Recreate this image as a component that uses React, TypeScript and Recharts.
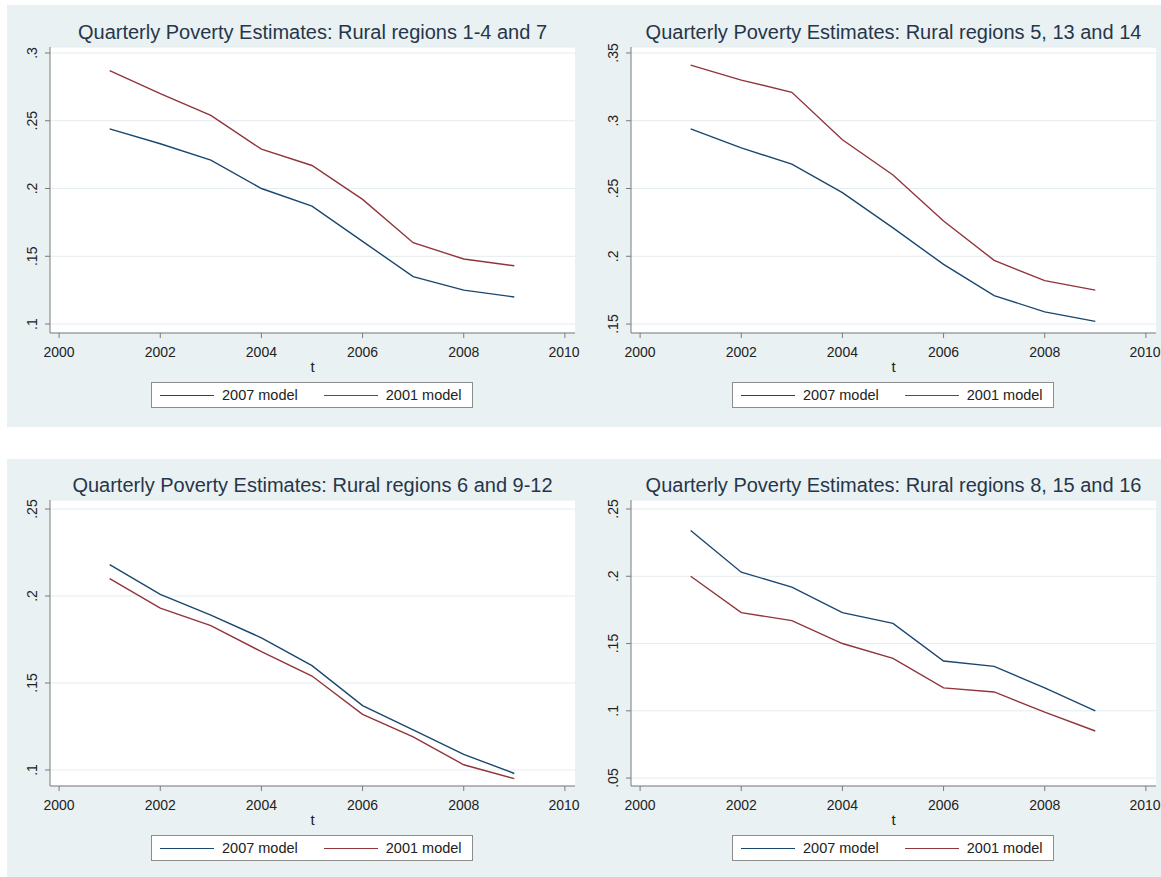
import React from 'react';
import { LineChart, Line, XAxis, YAxis, CartesianGrid } from 'recharts';

const FONT = '"Liberation Sans", Arial, Helvetica, sans-serif';

const years = [2001, 2002, 2003, 2004, 2005, 2006, 2007, 2008, 2009];

// Rural regions 1-4 and 7
const ruralA_2007 = [0.244, 0.233, 0.221, 0.2, 0.187, 0.161, 0.135, 0.125, 0.12];
const ruralA_2001 = [0.287, 0.27, 0.254, 0.229, 0.217, 0.192, 0.16, 0.148, 0.143];

// Rural regions 5, 13 and 14
const ruralB_2007 = [0.294, 0.28, 0.268, 0.247, 0.221, 0.194, 0.171, 0.159, 0.152];
const ruralB_2001 = [0.341, 0.33, 0.321, 0.286, 0.26, 0.226, 0.197, 0.182, 0.175];

// Rural regions 6 and 9-12
const ruralC_2007 = [0.218, 0.201, 0.189, 0.176, 0.16, 0.137, 0.123, 0.109, 0.098];
const ruralC_2001 = [0.21, 0.193, 0.183, 0.168, 0.154, 0.132, 0.119, 0.103, 0.095];

// Rural regions 8, 15 and 16
const ruralD_2007 = [0.234, 0.203, 0.192, 0.173, 0.165, 0.137, 0.133, 0.117, 0.1];
const ruralD_2001 = [0.2, 0.173, 0.167, 0.15, 0.139, 0.117, 0.114, 0.099, 0.085];

const xTicks = [2000, 2002, 2004, 2006, 2008, 2010];

const yTicksA = [0.1, 0.15, 0.2, 0.25, 0.3];
const yLabelsA = ['.1', '.15', '.2', '.25', '.3'];
const yTicksB = [0.15, 0.2, 0.25, 0.3, 0.35];
const yLabelsB = ['.15', '.2', '.25', '.3', '.35'];
const yTicksC = [0.1, 0.15, 0.2, 0.25];
const yLabelsC = ['.1', '.15', '.2', '.25'];
const yTicksD = [0.05, 0.1, 0.15, 0.2, 0.25];
const yLabelsD = ['.05', '.1', '.15', '.2', '.25'];

const seriesNames = ['2007 model', '2001 model'];

const NAVY = '#1a476f';
const MAROON = '#90353b';
const BG = '#eaf1f3';
const TEXT = '#222';

const toRows = (m2007: number[], m2001: number[]) =>
  years.map((year, i) => ({ year, m2007: m2007[i], m2001: m2001[i] }));

const panels = [
  {
    title: 'Quarterly Poverty Estimates: Rural regions 1-4 and 7',
    rows: toRows(ruralA_2007, ruralA_2001),
    ticks: yTicksA, labels: yLabelsA, domain: [0.0934, 0.3044],
    left: 0, top: 5,
  },
  {
    title: 'Quarterly Poverty Estimates: Rural regions 5, 13 and 14',
    rows: toRows(ruralB_2007, ruralB_2001),
    ticks: yTicksB, labels: yLabelsB, domain: [0.1434, 0.3544],
    left: 581, top: 5,
  },
  {
    title: 'Quarterly Poverty Estimates: Rural regions 6 and 9-12',
    rows: toRows(ruralC_2007, ruralC_2001),
    ticks: yTicksC, labels: yLabelsC, domain: [0.0908, 0.2552],
    left: 0, top: 458,
  },
  {
    title: 'Quarterly Poverty Estimates: Rural regions 8, 15 and 16',
    rows: toRows(ruralD_2007, ruralD_2001),
    ticks: yTicksD, labels: yLabelsD, domain: [0.0441, 0.2567],
    left: 581, top: 458,
  },
];

const XTick = ({ x, y, payload }: any) => (
  <text x={x} y={y + 19} textAnchor="middle" fontSize={14} fill={TEXT} fontFamily={FONT}>
    {payload.value}
  </text>
);

const makeYTick = (ticks: number[], labels: string[]) => ({ x, y, payload }: any) => {
  const bx = x - 8;
  const idx = ticks.findIndex((t) => Math.abs(t - payload.value) < 1e-9);
  return (
    <text
      x={bx}
      y={y}
      transform={`rotate(-90, ${bx}, ${y})`}
      textAnchor="middle"
      fontSize={14}
      fill={TEXT}
      fontFamily={FONT}
    >
      {idx >= 0 ? labels[idx] : payload.value}
    </text>
  );
};

const AxisTitle = (props: any) => {
  const vb = props.viewBox || {};
  return (
    <text x={vb.x + vb.width / 2} y={vb.y + 39} textAnchor="middle" fontSize={15} fill={TEXT} fontFamily={FONT}>
      t
    </text>
  );
};

const LegendBox = () => (
  <div
    style={{
      position: 'absolute', left: 151, top: 377, width: 320, height: 24,
      border: '1px solid #8c8c8c', background: '#fff',
      display: 'flex', alignItems: 'center', fontFamily: FONT, fontSize: 14.5, color: TEXT,
    }}
  >
    {seriesNames.map((name, i) => (
      <div key={name} style={{ display: 'flex', alignItems: 'center', marginLeft: i === 0 ? 8 : 26 }}>
        <div style={{ width: 54, height: 0, borderTop: `1.5px solid ${i === 0 ? NAVY : MAROON}` }} />
        <span style={{ marginLeft: 8 }}>{name}</span>
      </div>
    ))}
  </div>
);

const Panel = ({ p }: any) => (
  <div style={{ position: 'absolute', left: p.left, top: p.top, width: 580, height: 422 }}>
    <div
      style={{
        position: 'absolute', left: 50, top: 17, width: 525, textAlign: 'center',
        fontFamily: FONT, fontSize: 20, lineHeight: '20px', color: '#26364a', whiteSpace: 'nowrap',
      }}
    >
      {p.title}
    </div>
    <LineChart
      width={580}
      height={422}
      data={p.rows}
      margin={{ top: 42, right: 5, left: 6, bottom: 54 }}
      style={{ position: 'absolute', left: 0, top: 0 }}
    >
      <CartesianGrid vertical={false} stroke="#e4ecef" fill="#ffffff" />
      <XAxis
        dataKey="year"
        type="number"
        domain={[1999.82, 2010.2]}
        ticks={xTicks}
        allowDataOverflow
        height={40}
        tickSize={5}
        tickMargin={0}
        axisLine={{ stroke: '#7a7a7a' }}
        tickLine={{ stroke: '#7a7a7a' }}
        tick={<XTick />}
        label={AxisTitle}
      />
      <YAxis
        type="number"
        domain={p.domain}
        ticks={p.ticks}
        allowDataOverflow
        width={44}
        tickSize={5}
        tickMargin={0}
        axisLine={{ stroke: '#7a7a7a' }}
        tickLine={{ stroke: '#7a7a7a' }}
        tick={makeYTick(p.ticks, p.labels)}
      />
      <Line type="linear" dataKey="m2007" name={seriesNames[0]} stroke={NAVY} strokeWidth={1.4} dot={false} isAnimationActive={false} />
      <Line type="linear" dataKey="m2001" name={seriesNames[1]} stroke={MAROON} strokeWidth={1.4} dot={false} isAnimationActive={false} />
    </LineChart>
    <LegendBox />
  </div>
);

export default function App() {
  return (
    <div style={{ position: 'absolute', left: 0, top: 0, width: 1161, height: 877, overflow: 'hidden', background: '#fff' }}>
      <div style={{ position: 'absolute', left: 7, top: 5, width: 1154, height: 422, background: BG }} />
      <div style={{ position: 'absolute', left: 7, top: 459, width: 1154, height: 418, background: BG }} />
      {panels.map((p) => (
        <Panel key={p.title} p={p} />
      ))}
    </div>
  );
}
